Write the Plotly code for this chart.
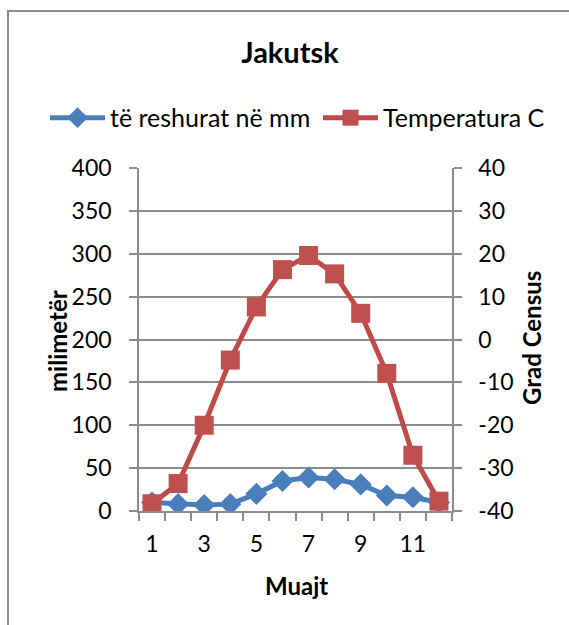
import plotly.graph_objects as go

months = [1, 2, 3, 4, 5, 6, 7, 8, 9, 10, 11, 12]
precip_mm = [10, 8, 7, 8, 20, 35, 39, 37, 31, 18, 16, 10]
temp_c = [-38.3, -33.6, -20.0, -4.8, 7.6, 16.3, 19.6, 15.3, 6.1, -7.9, -27.0, -37.7]
x_tick_labels = ["1", "3", "5", "7", "9", "11"]
x_tick_vals = [1, 3, 5, 7, 9, 11]
y2_tick_vals = [-40, -30, -20, -10, 0, 10, 20, 30, 40]
y2_tick_labels = ["-40", "-30", "-20", "-10", "0", "10", "20", "30", "40"]

FONT = "Lato"
GRID = "#8c8c8c"

fig = go.Figure()
fig.add_trace(go.Scatter(
    x=months, y=precip_mm, name="të reshurat në mm", mode="lines+markers",
    line=dict(color="#4A7EBB", width=5),
    marker=dict(symbol="diamond", size=17, color="#4A7EBB"),
    yaxis="y", legend="legend"))
fig.add_trace(go.Scatter(
    x=months, y=temp_c, name="Temperatura C", mode="lines+markers",
    line=dict(color="#BE4B48", width=5),
    marker=dict(symbol="square", size=19, color="#C0504D"),
    yaxis="y2", legend="legend2"))

legend_common = dict(orientation="h", yanchor="middle", y=1.146, xanchor="left",
                     font=dict(size=25), itemwidth=55, bgcolor="rgba(0,0,0,0)")

fig.update_layout(
    width=569, height=625,
    margin=dict(l=139, r=117, t=168, b=114),
    paper_bgcolor="white", plot_bgcolor="white",
    font=dict(family=FONT, size=23, color="black"),
    title=dict(text="<b>Jakutsk</b>", x=290/569, xanchor="center",
               y=1-53/625, yanchor="middle", font=dict(size=29)),
    showlegend=True,
    legend=dict(x=(45-139)/313, **legend_common),
    legend2=dict(x=(318-139)/313, **legend_common),
    xaxis=dict(range=[0.5, 12.5], tickvals=x_tick_vals, ticktext=x_tick_labels,
               ticks="", showgrid=False, zeroline=False,
               showline=True, linecolor=GRID, linewidth=1.5,
               ticklabelstandoff=12,
               minor=dict(tick0=0.5, dtick=1, ticks="outside", ticklen=8,
                          tickcolor=GRID, tickwidth=1.5, showgrid=False)),
    yaxis=dict(range=[0, 400], dtick=50, showgrid=True, gridcolor=GRID, gridwidth=1.5,
               zeroline=False, showline=True, linecolor=GRID, linewidth=1.5,
               ticks="outside", ticklen=8, tickcolor=GRID, tickwidth=1.5,
               ticklabelstandoff=13),
    yaxis2=dict(range=[-40, 40], tickvals=y2_tick_vals, ticktext=y2_tick_labels,
                overlaying="y", side="right",
                showgrid=False, zeroline=False, showline=True, linecolor=GRID,
                linewidth=1.5, ticks="outside", ticklen=8, tickcolor=GRID,
                tickwidth=1.5, ticklabelstandoff=12),
)

fig.add_annotation(text="<b>milimetër</b>", xref="paper", yref="paper",
                   x=(57-139)/313, y=(511-341)/343, textangle=-90,
                   showarrow=False, font=dict(size=24), xanchor="center", yanchor="middle")
fig.add_annotation(text="<b>Grad Census</b>", xref="paper", yref="paper",
                   x=(531-139)/313, y=(511-338)/343, textangle=-90,
                   showarrow=False, font=dict(size=24), xanchor="center", yanchor="middle")
fig.add_annotation(text="<b>Muajt</b>", xref="paper", yref="paper",
                   x=(296-139)/313, y=(511-585)/343,
                   showarrow=False, font=dict(size=24), xanchor="center", yanchor="middle")

fig.add_shape(type="rect", xref="paper", yref="paper",
              x0=(8-139)/313, x1=1.8, y0=-1.0, y1=(511-11)/343,
              line=dict(color="#8c8c8c", width=2), fillcolor="rgba(0,0,0,0)", layer="below")

fig.write_html("out.html", config={"displayModeBar": False},
               post_script="document.body.style.margin='0';document.body.style.padding='0';")
